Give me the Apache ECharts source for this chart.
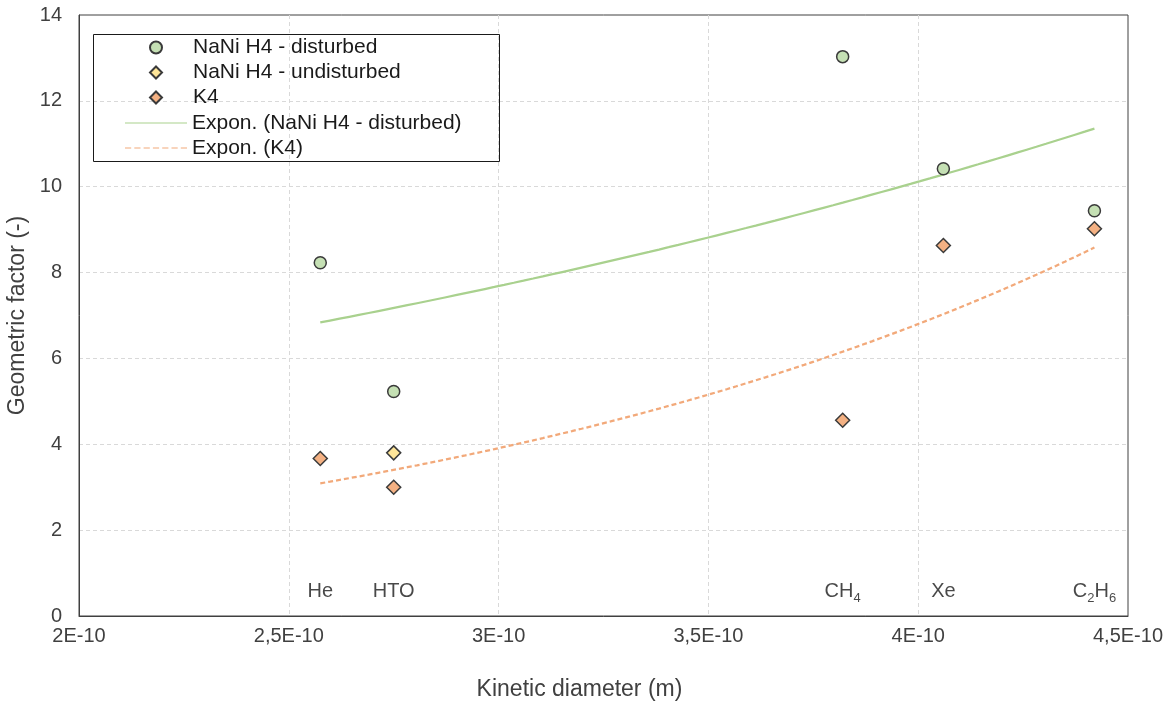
<!DOCTYPE html>
<html>
<head>
<meta charset="utf-8">
<script src="https://cdn.jsdelivr.net/npm/echarts@6/dist/echarts.min.js"></script>
<style>
html,body{margin:0;padding:0;background:#fff;}
#chart{width:1175px;height:702px;}
</style>
</head>
<body>
<div id="chart"></div>
<script>
// Gas labels and kinetic diameters (m)
const gases = ['He', 'HTO', 'CH{sub|4}', 'Xe', 'C{sub|2}H{sub|6}'];
const kineticDiameter = [2.575e-10, 2.75e-10, 3.82e-10, 4.06e-10, 4.42e-10];
// Geometric factor values
const naniDisturbed = [8.23, 5.23, 13.03, 10.42, 9.44];
const naniUndisturbedX = [2.75e-10];
const naniUndisturbed = [3.80];
const k4 = [3.67, 3.00, 4.56, 8.63, 9.02];
const labelY = 0.56;
const yTicks = [0, 2, 4, 6, 8, 10, 12, 14];

// Exponential trendline (least squares on ln y), like a spreadsheet "Expon." trendline
function expTrend(xs, ys, n) {
  const lx = xs, ly = ys.map(Math.log);
  const mx = lx.reduce((a, b) => a + b, 0) / lx.length;
  const my = ly.reduce((a, b) => a + b, 0) / ly.length;
  let sxy = 0, sxx = 0;
  for (let i = 0; i < lx.length; i++) { sxy += (lx[i] - mx) * (ly[i] - my); sxx += (lx[i] - mx) * (lx[i] - mx); }
  const b = sxy / sxx, a = my - b * mx;
  const x0 = Math.min(...xs), x1 = Math.max(...xs);
  const out = [];
  for (let i = 0; i <= n; i++) { const x = x0 + (x1 - x0) * i / n; out.push([x, Math.exp(a + b * x)]); }
  return out;
}

const pairs = (xs, ys) => xs.map((x, i) => [x, ys[i]]);
const FONT = '"Liberation Sans", Arial, sans-serif';
const chart = echarts.init(document.getElementById('chart'));
const edge = '#3a3a3a';
const gridLine = { show: true, showMinLine: false, showMaxLine: false, lineStyle: { color: '#d9d9d9', type: [4, 3], width: 1 } };
const solidIcon = 'path://M0,0L60,0L60,1L0,1Z';
const dashIcon = 'path://M0,0h6v1h-6z M9,0h6v1h-6z M18,0h6v1h-6z M27,0h6v1h-6z M36,0h6v1h-6z M45,0h6v1h-6z M54,0h6v1h-6z';

chart.setOption({
  animation: false,
  backgroundColor: '#fff',
  textStyle: { fontFamily: FONT },
  grid: { left: 79, right: 47, top: 15, bottom: 86, containLabel: false, outerBoundsMode: 'none',
    show: true, borderColor: '#404040', borderWidth: 1, backgroundColor: 'transparent' },
  xAxis: {
    type: 'value', min: 2e-10, max: 4.5e-10, interval: 0.5e-10,
    name: 'Kinetic diameter (m)', nameLocation: 'middle', nameGap: 62,
    nameTextStyle: { fontSize: 23, color: '#404040', fontFamily: FONT, padding: [0, 48, 0, 0] },
    axisLine: { show: true, lineStyle: { color: '#404040', width: 1 } }, axisTick: { show: false },
    axisLabel: { fontSize: 20, color: '#404040', margin: 10, fontFamily: FONT,
      formatter: v => String(Math.round(v * 1e12) / 100).replace('.', ',') + 'E-10' },
    splitLine: gridLine
  },
  yAxis: {
    type: 'value', min: yTicks[0], max: yTicks[yTicks.length - 1], interval: 2,
    name: 'Geometric factor (-)', nameLocation: 'middle', nameGap: 46,
    nameTextStyle: { fontSize: 23, color: '#404040', fontFamily: FONT },
    axisLine: { show: true, lineStyle: { color: '#404040', width: 1 } }, axisTick: { show: false },
    axisLabel: { fontSize: 20, color: '#404040', margin: 17, fontFamily: FONT },
    splitLine: gridLine
  },
  legend: [
    {
      orient: 'vertical', left: 144, top: 32, itemWidth: 12, itemHeight: 12, itemGap: 4,
      data: ['NaNi H4 - disturbed', 'NaNi H4 - undisturbed', 'K4'],
      formatter: n => '{p|}' + n,
      textStyle: { fontSize: 21, color: '#1a1a1a', fontFamily: FONT, rich: { p: { width: 26 } } }
    },
    {
      orient: 'vertical', left: 120, top: 107.5, itemWidth: 62, itemHeight: 2.2, itemGap: 4,
      data: [{ name: 'Expon. (NaNi H4 - disturbed)', icon: solidIcon }, { name: 'Expon. (K4)', icon: dashIcon }],
      textStyle: { fontSize: 21, color: '#1a1a1a', fontFamily: FONT }
    }
  ],
  graphic: [{
    type: 'rect', left: 91, top: 32, z: 100,
    shape: { width: 406, height: 127 },
    style: { fill: 'none', stroke: '#1a1a1a', lineWidth: 1 }
  }],
  series: [
    {
      name: 'Expon. (NaNi H4 - disturbed)', type: 'line', showSymbol: false, symbol: 'none',
      data: expTrend(kineticDiameter, naniDisturbed, 80),
      lineStyle: { color: '#a9d18e', width: 2.25 }, itemStyle: { color: '#a9d18e' }, z: 2
    },
    {
      name: 'Expon. (K4)', type: 'line', showSymbol: false, symbol: 'none',
      data: expTrend(kineticDiameter, k4, 80),
      lineStyle: { color: '#f2a97a', width: 2.25, type: [5, 3] }, itemStyle: { color: '#f2a97a' }, z: 2
    },
    {
      name: 'NaNi H4 - disturbed', type: 'scatter', symbol: 'circle', symbolSize: 12,
      data: pairs(kineticDiameter, naniDisturbed),
      itemStyle: { color: '#c5e0b4', borderColor: edge, borderWidth: 1.5, opacity: 1 }, z: 5
    },
    {
      name: 'NaNi H4 - undisturbed', type: 'scatter', symbol: 'diamond', symbolSize: 14,
      data: pairs(naniUndisturbedX, naniUndisturbed),
      itemStyle: { color: '#ffe699', borderColor: edge, borderWidth: 1.5, opacity: 1 }, z: 5
    },
    {
      name: 'K4', type: 'scatter', symbol: 'diamond', symbolSize: 14,
      data: pairs(kineticDiameter, k4),
      itemStyle: { color: '#f4b183', borderColor: edge, borderWidth: 1.5, opacity: 1 }, z: 5
    },
    {
      name: 'labels', type: 'scatter', symbolSize: 0, silent: true,
      data: kineticDiameter.map((x, i) => ({ value: [x, labelY], label: { formatter: gases[i] } })),
      label: {
        show: true, position: 'inside', fontSize: 20, color: '#1a1a1a', fontFamily: FONT, lineHeight: 26,
        rich: { sub: { fontSize: 13, verticalAlign: 'bottom', lineHeight: 26, fontFamily: FONT, color: '#1a1a1a' } }
      }
    }
  ]
});
</script>
</body>
</html>
